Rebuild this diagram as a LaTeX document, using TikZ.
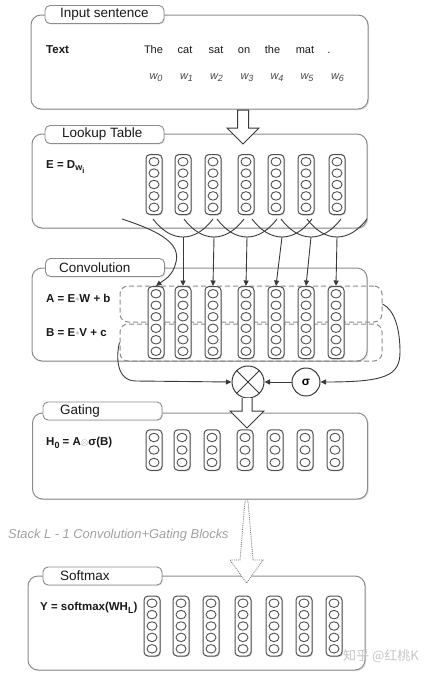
\documentclass[tikz,border=0pt]{standalone}
\usepackage{fontspec}
\setmainfont{Liberation Sans}
\newfontfamily\cjkfont{Noto Sans CJK SC}
\usetikzlibrary{shapes.geometric,shadows,arrows.meta}
\definecolor{panelgray}{HTML}{8C8C8C}
\definecolor{colgray}{HTML}{505050}
\definecolor{txt}{HTML}{1A1A1A}
\definecolor{wgray}{HTML}{4A4A4A}
\definecolor{stackgray}{HTML}{A0A0A0}
\definecolor{arrgray}{HTML}{3A3A3A}
\newcommand\vcol[5]{%
  \node[colbox, minimum height={#4*#5+3}] (#1) at (#2,#3) {};
  \foreach \k in {1,...,#4}{\node[cell] (#1-\k) at (#2,{#3+(\k-(#4+1)/2)*#5}) {};}%
}
\newcommand\mysub[2]{\raisebox{-#1}{\fontsize{9}{10}\selectfont #2}}
\newcommand\mysubsub[1]{\raisebox{-2.5pt}{\fontsize{7.5}{8}\selectfont #1}}
\begin{document}
\begin{tikzpicture}[x=1pt,y=-1pt,
  panel/.style={draw=panelgray, line width=1pt, rounded corners=10pt, fill=white,
    drop shadow={opacity=0.25, shadow xshift=1.2pt, shadow yshift=-1.2pt}, inner sep=0},
  tab/.style={draw=panelgray, line width=0.9pt, rounded corners=5pt, fill=white,
    minimum width=119pt, minimum height=18pt, inner sep=0,
    drop shadow={opacity=0.2, shadow xshift=1pt, shadow yshift=-1pt}},
  tabtext/.style={font=\fontsize{13.5}{15}\selectfont, text=txt, anchor=west, inner sep=0},
  lbl/.style={font=\bfseries\fontsize{11.5}{13}\selectfont, text=txt, anchor=base west, inner sep=0},
  word/.style={font=\fontsize{11}{13}\selectfont, text=txt, anchor=base, inner sep=0},
  wsym/.style={font=\itshape\fontsize{11}{13}\selectfont, text=wgray, anchor=base, inner sep=0},
  colbox/.style={draw=colgray, line width=1pt, rounded corners=4pt, fill=white,
    minimum width=16pt, inner sep=0,
    drop shadow={opacity=0.3, shadow xshift=1pt, shadow yshift=-1pt}},
  cell/.style={ellipse, draw=colgray, line width=0.9pt, fill=white,
    minimum width=10pt, minimum height=8.5pt, inner sep=0},
  dashbox/.style={draw=panelgray, dash pattern=on 5pt off 3pt, line width=1pt,
    rounded corners=8pt, inner sep=0},
  cupline/.style={draw=arrgray, line width=0.9pt},
  conn/.style={draw=arrgray, line width=0.9pt, -{Triangle[length=5.5pt,width=5pt]}},
  hollow/.style={draw=arrgray, line width=1pt, fill=white, line join=miter},
  opnode/.style={circle, draw=arrgray, line width=1pt, fill=white, inner sep=0}
]
\useasboundingbox (0,0) rectangle (434,678);

% ---------- panels ----------
\node[panel, minimum width=337pt, minimum height=94pt] (P1) at (199.5,62) {};
\node[panel, minimum width=335pt, minimum height=94pt] (P2) at (199.5,181) {};
\node[panel, minimum width=335pt, minimum height=93pt] (P3) at (199.5,314.5) {};
\node[panel, minimum width=335pt, minimum height=86pt] (P4) at (200,456) {};
\node[panel, minimum width=337pt, minimum height=94pt] (P5) at (196.5,623) {};

\node[tab] (T1) at (104.5,14.5) {};
\node[tabtext] (T1t) at (60,14.5) {Input sentence};
\node[tab] (T2) at (104.5,134.5) {};
\node[tabtext] (T2t) at (62,134.5) {Lookup Table};
\node[tab] (T3) at (105,267.5) {};
\node[tabtext] (T3t) at (59,267.5) {Convolution};
\node[tab] (T4) at (102.5,411) {};
\node[tabtext] (T4t) at (60,411) {Gating};
\node[tab] (T5) at (102.5,576) {};
\node[tabtext] (T5t) at (60,576) {Softmax};

% ---------- input sentence ----------
\node[lbl] (txtlbl) at (46,53) {Text};
\foreach \w/\x [count=\i] in {The/153.5, cat/185, sat/216, on/244, the/272.5, mat/305, ./329}{
  \node[word] (word\i) at (\x,53) {\w};
}
\foreach \x [count=\i from 0] in {156,186.5,216.5,247,277,307,337.5}{
  \node[wsym] (wsym\i) at (\x,79) {w\mysub{2.5pt}{\i}};
}

% ---------- hollow arrow 1 ----------
\draw[hollow] (237.5,110) -- (237.5,128) -- (227,128) -- (243,144) -- (259,128)
  -- (248.5,128) -- (248.5,110) -- cycle;

% ---------- lookup table ----------
\node[lbl] (elbl) at (46,168) {E = D\mysub{2.5pt}{w\mysubsub{i}}};
\foreach \x [count=\i] in {154,183,213,246,276,306,337}{
  \vcol{L\i}{\x}{184.5}{5}{11.4}
}

% ---------- convolution ----------
\node[lbl] (albl) at (46,302) {A = E{\color{gray}\raisebox{0.5pt}{\scalebox{0.7}{$\ast$}}}W + b};
\node[lbl] (blbl) at (46,336) {B = E{\color{gray}\raisebox{0.5pt}{\scalebox{0.7}{$\ast$}}}V + c};
\node[dashbox, minimum width=262pt, minimum height=36pt] (DA) at (251,304) {};
\node[dashbox, minimum width=262pt, minimum height=37pt] (DB) at (251,342.5) {};
\foreach \x [count=\i] in {156,183,213,246,276,306,336}{
  \vcol{C\i}{\x}{322.5}{6}{11.5}
}

% cups and arrows between lookup and convolution
\foreach \cx [count=\i from 2] in {183,214,247,282,311,337}{
  \draw[cupline] (\cx-30,219) .. controls (\cx-12,243) and (\cx+12,243) .. (\cx+30,219);
  \coordinate (cup\i) at (\cx,237);
  \draw[conn] (cup\i) -- (C\i.north);
}
\coordinate (s0) at (122,219);
\draw[conn] (s0) .. controls (165,233) and (180,245) .. (176,262)
  .. controls (173,276) and (164,280) .. (C1.north);

% gate operators
\node[opnode, minimum size=32pt] (mul) at (248,382) {};
\draw[arrgray, line width=1pt] (mul.north west) -- (mul.south east);
\draw[arrgray, line width=1pt] (mul.north east) -- (mul.south west);
\node[opnode, minimum size=28pt, font=\bfseries\fontsize{12}{14}\selectfont] (sig) at (306,382) {σ};
\draw[conn] (sig.west) -- (mul.east);
\draw[conn] (DA.east) .. controls (395,310) and (400,330) .. (400,352)
  .. controls (400,376) and (385,382) .. (sig.east);
\draw[conn] (DB.west) .. controls (116,356) and (116,381) .. (136,381) -- (mul.west);

% ---------- hollow arrow 2 ----------
\draw[hollow] (242,398) -- (242,411) -- (230,411) -- (247,428) -- (264,411)
  -- (252,411) -- (252,398);

% ---------- gating ----------
\node[lbl] (hlbl) at (46,445) {H\mysub{3pt}{\bfseries 0} = A{\color{gray}\scalebox{0.8}{$\otimes$}}σ(B)};
\foreach \x [count=\i] in {154,182,212,245,275,305,335}{
  \vcol{G\i}{\x}{450}{3}{12.5}
}

% ---------- stack text and dotted arrow ----------
\node[font=\itshape\fontsize{12.9}{15}\selectfont, text=stackgray, anchor=west, inner sep=0]
  (stack) at (8,535) {Stack L - 1 Convolution+Gating Blocks};
\draw[draw=gray, line width=0.9pt, densely dotted, fill=white]
  (245,501) -- (248,501) -- (253,560) -- (263,560) -- (246.5,583) -- (230,560)
  -- (240,560) -- cycle;

% ---------- softmax ----------
\node[lbl] (ylbl) at (40,610) {Y = softmax(WH\mysub{3pt}{\bfseries L})};
\foreach \x [count=\i] in {152,181,211,243,274,304,334}{
  \vcol{S\i}{\x}{626}{5}{11.4}
}

% watermark
\node[font=\cjkfont\fontsize{13}{15}\selectfont, text=gray!45, anchor=west, inner sep=0]
  (wm) at (343,656) {知乎 @红桃K};
\end{tikzpicture}
\end{document}
